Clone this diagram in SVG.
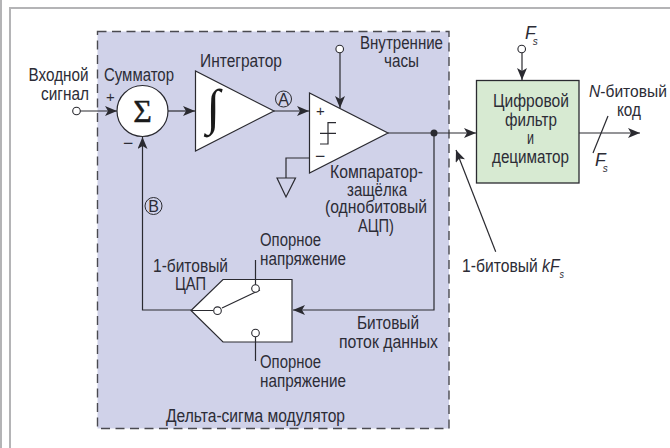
<svg xmlns="http://www.w3.org/2000/svg" width="670" height="448" viewBox="0 0 670 448">
<style>
text{font-family:"Liberation Sans",Arial,sans-serif;font-size:17.5px;fill:#2c2c36}
.m{text-anchor:middle}
.i{font-style:italic}
.sub{font-size:10px;font-style:italic}
.w{fill:none;stroke:#2a2a30;stroke-width:1.2}
.g{fill:#fff;stroke:#2a2a30;stroke-width:1.2}
.o{fill:#fff;stroke:#2a2a30;stroke-width:1.1}
.sym{font-family:"Liberation Serif",serif;fill:#1a1a1a}
</style>
<defs>
<marker id="a" markerUnits="userSpaceOnUse" markerWidth="13" markerHeight="10" refX="12" refY="5" orient="auto"><path d="M0 0L12 5L0 10L3 5Z" fill="#2a2a30"/></marker>
</defs>
<rect width="670" height="448" fill="#fff"/>
<path d="M1 0V448M670 8H10V448" fill="none" stroke="#b4b4b6" stroke-width="2"/>
<g id="modulator">
<rect x="97.5" y="31.5" width="351.5" height="397" fill="#d0d2e9" stroke="#4a4a50" stroke-width="1.4" stroke-dasharray="9 5.500"/>
<text x="166" y="422" textLength="179" lengthAdjust="spacingAndGlyphs">Дельта-сигма модулятор</text>
</g>
<g id="connectors">
<path class="w" d="M80 111H117" marker-end="url(#a)"/>
<path class="w" d="M168 111H195" marker-end="url(#a)"/>
<path class="w" d="M274 111H309" marker-end="url(#a)"/>
<path class="w" d="M340 53V108" marker-end="url(#a)"/>
<path class="w" d="M309 158H286V178"/>
<path class="w" d="M388 133H476" marker-end="url(#a)"/>
<path class="w" d="M522 53V80" marker-end="url(#a)"/>
<path class="w" d="M579 133H640" marker-end="url(#a)"/>
<path class="w" d="M608 116L593 153"/>
<path class="w" d="M495.700 251.700L456 150" stroke-width="1" marker-end="url(#a)"/>
<path class="w" d="M434 133V310H293" marker-end="url(#a)"/>
<path class="w" d="M191 310H142.500V137" marker-end="url(#a)"/>
<circle cx="434" cy="133" r="3.500" fill="#2a2a30"/>
</g>
<g id="input">
<circle class="o" cx="76.500" cy="111" r="3.800"/>
<text x="28.500" y="81" textLength="60" lengthAdjust="spacingAndGlyphs">Входной</text>
<text x="41" y="100" textLength="48" lengthAdjust="spacingAndGlyphs">сигнал</text>
<text x="106" y="102" style="font-size:15px">+</text>
</g>
<g id="sum">
<circle class="g" cx="142.500" cy="111" r="25.500"/>
<text class="m sym" x="142.500" y="122" style="font-size:32px;stroke:#1a1a1a;stroke-width:.4">Σ</text>
<text x="104" y="81" textLength="70" lengthAdjust="spacingAndGlyphs">Сумматор</text>
<text x="123" y="149">−</text>
</g>
<g id="integrator">
<path class="g" d="M195.500 71V151L274 111Z"/>
<text x="200" y="67" textLength="82" lengthAdjust="spacingAndGlyphs">Интегратор</text>
<text x="213" y="124" class="m sym" style="font-size:50px">∫</text>
</g>
<g id="markA">
<circle cx="283.500" cy="99" r="8" fill="none" stroke="#2a2a30"/>
<text class="m" x="283.500" y="105" style="font-size:16px">A</text>
</g>
<g id="markB">
<circle cx="153.500" cy="206" r="8.500" fill="none" stroke="#2a2a30"/>
<text class="m" x="153.500" y="212" style="font-size:16px">B</text>
</g>
<g id="comparator">
<path class="g" d="M309.500 93V173L388 133Z"/>
<path class="w" d="M320 144H328V122.700H336M320 133.300H336"/>
<text x="316" y="116" style="font-size:15px">+</text>
<text x="315" y="162">−</text>
<path class="w" d="M277 178H295.500L286 197Z"/>
<text x="330" y="178" textLength="93" lengthAdjust="spacingAndGlyphs">Компаратор-</text>
<text x="347" y="196" textLength="60" lengthAdjust="spacingAndGlyphs">защёлка</text>
<text x="325" y="213" textLength="102" lengthAdjust="spacingAndGlyphs">(однобитовый</text>
<text x="358" y="232" textLength="36" lengthAdjust="spacingAndGlyphs">АЦП)</text>
</g>
<g id="clock">
<circle class="o" cx="339.700" cy="49" r="3.800"/>
<text x="360" y="49" textLength="83" lengthAdjust="spacingAndGlyphs">Внутренние</text>
<text x="384" y="67" textLength="35" lengthAdjust="spacingAndGlyphs">часы</text>
</g>
<g id="filter">
<rect x="476.500" y="80.500" width="102.500" height="102.500" fill="#d7ead2" stroke="#2a2a30" stroke-width="1.3"/>
<text x="493" y="107" textLength="76" lengthAdjust="spacingAndGlyphs">Цифровой</text>
<text x="505" y="126" textLength="52" lengthAdjust="spacingAndGlyphs">фильтр</text>
<text x="527" y="144" textLength="7" lengthAdjust="spacingAndGlyphs">и</text>
<text x="492" y="163" textLength="77" lengthAdjust="spacingAndGlyphs">дециматор</text>
<circle class="o" cx="521.700" cy="49" r="3.800"/>
<text class="i" x="525" y="39">F<tspan class="sub" dx="-3" dy="5.500">s</tspan></text>
<text x="589" y="97" textLength="78" lengthAdjust="spacingAndGlyphs" style="font-size:16.5px"><tspan class="i">N</tspan>-битовый</text>
<text x="617" y="116" textLength="24" lengthAdjust="spacingAndGlyphs">код</text>
<text class="i" x="595" y="166">F<tspan class="sub" dx="-3" dy="5.500">s</tspan></text>
</g>
<g id="dac">
<path class="g" d="M191 310.500L223 279.500H292V342H223Z"/>
<path class="w" d="M191 310.500H213M222 308L260 290M255.500 260V285M255.500 337V361"/>
<circle class="o" cx="217.500" cy="310.700" r="3.800"/>
<circle class="o" cx="255.500" cy="288.500" r="3.800"/>
<circle class="o" cx="255.500" cy="333" r="3.800"/>
<text x="153" y="272" textLength="75" lengthAdjust="spacingAndGlyphs">1-битовый</text>
<text x="175" y="290" textLength="31" lengthAdjust="spacingAndGlyphs">ЦАП</text>
<text x="260" y="246" textLength="61" lengthAdjust="spacingAndGlyphs">Опорное</text>
<text x="260" y="265" textLength="86" lengthAdjust="spacingAndGlyphs">напряжение</text>
<text x="260" y="368" textLength="61" lengthAdjust="spacingAndGlyphs">Опорное</text>
<text x="260" y="387" textLength="86" lengthAdjust="spacingAndGlyphs">напряжение</text>
<text x="357" y="329" textLength="62" lengthAdjust="spacingAndGlyphs">Битовый</text>
<text x="339" y="348" textLength="99" lengthAdjust="spacingAndGlyphs">поток данных</text>
</g>
<g id="kfs">
<text x="462" y="272" textLength="102" lengthAdjust="spacingAndGlyphs">1-битовый <tspan class="i">kF</tspan><tspan class="sub" dy="5.500">s</tspan></text>
</g>
</svg>
